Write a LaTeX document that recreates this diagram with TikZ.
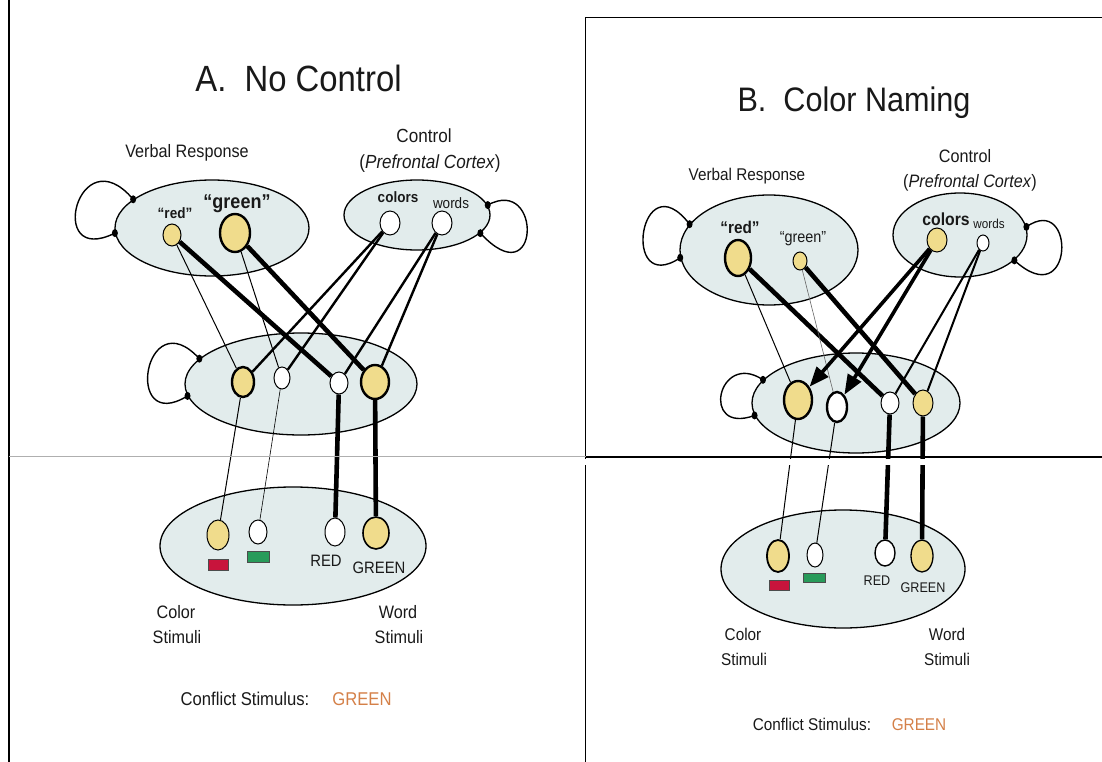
\documentclass[tikz,border=0pt]{standalone}
\usepackage{fontspec}
\setmainfont{Liberation Sans}[FakeStretch=0.9]
\usetikzlibrary{shapes.geometric,arrows.meta}
\definecolor{layerfill}{RGB}{226,236,236}
\definecolor{unityel}{RGB}{240,220,140}
\definecolor{stimred}{RGB}{200,20,60}
\definecolor{stimgreen}{RGB}{40,155,90}
\definecolor{conforange}{RGB}{212,128,72}
\definecolor{cutgray}{RGB}{175,175,175}
\definecolor{ink}{RGB}{25,25,25}
\newcommand\fsz[1]{\fontsize{#1}{#1}\selectfont}
\begin{document}
\begin{tikzpicture}[x=1pt,y=-1pt,
  layer/.style={ellipse, draw, line width=1.3, fill=layerfill, inner sep=0},
  unit/.style={ellipse, draw, line width=1, inner sep=0, fill=white},
  yel/.style={fill=unityel},
  heavyunit/.style={line width=2.4},
  tdot/.style={ellipse, fill=black, inner sep=0, minimum width=6, minimum height=8},
  loopline/.style={line width=1.4},
  hairc/.style={line width=0.6},
  thinc/.style={line width=1},
  medc/.style={line width=2.4},
  thickc/.style={line width=4.6},
  arrowc/.style={line width=3.6, -{Triangle[length=20,width=15]}},
  txt/.style={inner sep=0, anchor=base, text=ink},
  stim/.style={rectangle, draw=black!70, line width=0.8, inner sep=0, minimum width=20, minimum height=11}
]
\useasboundingbox (0,0) rectangle (1102,762);

% ================= Panel A =================
\node[txt, font=\fsz{36.5}] (titleA) at (298.5,92) {A.\ \ No Control};
\node[txt, font=\fsz{18}] (vrlabA) at (187,158) {Verbal Response};
\node[txt, font=\fsz{19}] (ctlabA) at (424,143) {Control};
\node[txt, font=\fsz{19}] (pfclabA) at (430,169) {(\textit{Prefrontal Cortex})};

\node[layer, minimum width=194, minimum height=96] (VRA) at (212,228) {};
\node[layer, minimum width=146, minimum height=70] (CtA) at (417,215) {};
\node[layer, minimum width=232, minimum height=102] (HdA) at (301,384) {};
\node[layer, minimum width=266, minimum height=118] (InA) at (293,546) {};

% self loops
\draw[loopline] (VRA.160) .. controls +(-55,-65) and +(-70,35) .. (VRA.183);
\node[tdot] (dA1) at (VRA.160) {};
\node[tdot] (dA2) at (VRA.183) {};
\draw[loopline] (CtA.8) .. controls +(55,-30) and +(60,65) .. (CtA.-16);
\node[tdot] (dA3) at (CtA.8) {};
\node[tdot] (dA4) at (CtA.-16) {};
\draw[loopline] (HdA.166) .. controls +(-55,-60) and +(-65,40) .. (HdA.186);
\node[tdot] (dA5) at (HdA.166) {};
\node[tdot] (dA6) at (HdA.186) {};

% units
\node[txt, font=\bfseries\fsz{15}] (redlabA) at (175,218) {``red''};
\node[txt, font=\bfseries\fsz{20}] (greenlabA) at (237,208) {``green''};
\node[txt, font=\bfseries\fsz{15}] (collabA) at (398,203) {colors};
\node[txt, font=\fsz{15}] (wordlabA) at (451,208) {words};

\node[unit, yel, minimum width=18, minimum height=22] (AredU) at (172,235) {};
\node[unit, yel, heavyunit, minimum width=30, minimum height=38] (AgreenU) at (235,233) {};
\node[unit, minimum width=20, minimum height=24] (AcolU) at (390,223) {};
\node[unit, minimum width=20, minimum height=24] (AwordU) at (442,223) {};

\node[unit, yel, heavyunit, minimum width=22, minimum height=30] (Ah1) at (243,382) {};
\node[unit, minimum width=16, minimum height=22] (Ah2) at (282,378) {};
\node[unit, minimum width=18, minimum height=22] (Ah3) at (339,383) {};
\node[unit, yel, heavyunit, minimum width=28, minimum height=34] (Ah4) at (375,382) {};

\node[unit, yel, minimum width=22, minimum height=30] (Ac1) at (218,535) {};
\node[unit, minimum width=18, minimum height=24] (Ac2) at (258,532) {};
\node[unit, minimum width=20, minimum height=28] (Aw1) at (335,532) {};
\node[unit, yel, line width=1.6, minimum width=26, minimum height=32] (Aw2) at (376,533) {};

\node[stim, fill=stimred] (AredStim) at (218,565) {};
\node[stim, fill=stimgreen, minimum width=22] (AgreenStim) at (258,557) {};
\node[txt, font=\fsz{16.5}] (REDA) at (326,566) {RED};
\node[txt, font=\fsz{16.5}] (GREENA) at (379,573) {GREEN};

% connections A
\draw[thinc] (AredU) -- (Ah1);
\draw[thickc] (AredU) -- (Ah3);
\draw[thinc] (AgreenU) -- (Ah2);
\draw[thickc] (AgreenU) -- (Ah4);
\draw[medc] (AcolU) -- (Ah1);
\draw[medc] (AcolU) -- (Ah2);
\draw[medc] (AwordU) -- (Ah3);
\draw[medc] (AwordU) -- (Ah4);
\draw[thinc] (Ah1) -- (Ac1);
\draw[hairc] (Ah2) -- (Ac2);
\draw[thickc] (Ah3) -- (Aw1);
\draw[thickc] (Ah4) -- (Aw2);

\node[txt, font=\fsz{18}] (colA1) at (176,618) {Color};
\node[txt, font=\fsz{18}] (colA2) at (177,643) {Stimuli};
\node[txt, font=\fsz{18}] (wrdA1) at (398,618) {Word};
\node[txt, font=\fsz{18}] (wrdA2) at (399,643) {Stimuli};
\node[txt, font=\fsz{18.5}] (confA) at (245,705) {Conflict Stimulus:};
\node[txt, font=\fsz{18.5}, text=conforange] (confGA) at (362,705) {GREEN};

% ================= Panel B =================
\node[txt, font=\fsz{34}] (titleB) at (854,112) {B.\ \ Color Naming};
\node[txt, font=\fsz{17}] (vrlabB) at (747,181) {Verbal Response};
\node[txt, font=\fsz{18}] (ctlabB) at (965,163) {Control};
\node[txt, font=\fsz{18}] (pfclabB) at (970,188) {(\textit{Prefrontal Cortex})};

\node[layer, minimum width=178, minimum height=110] (VRB) at (769,250) {};
\node[layer, minimum width=134, minimum height=84] (CtB) at (960,235) {};
\node[layer, minimum width=208, minimum height=100] (HdB) at (856,403) {};
\node[layer, minimum width=244, minimum height=118] (InB) at (843,569) {};

\draw[loopline] (VRB.162) .. controls +(-50,-65) and +(-60,40) .. (VRB.185);
\node[tdot] (dB1) at (VRB.162) {};
\node[tdot] (dB2) at (VRB.185) {};
\draw[loopline] (CtB.7) .. controls +(50,-35) and +(60,55) .. (CtB.-25);
\node[tdot] (dB3) at (CtB.7) {};
\node[tdot] (dB4) at (CtB.-25) {};
\draw[loopline] (HdB.166) .. controls +(-45,-30) and +(-55,20) .. (HdB.187);
\node[tdot] (dB5) at (HdB.166) {};
\node[tdot] (dB6) at (HdB.187) {};

\node[txt, font=\bfseries\fsz{17}] (redlabB) at (740,233) {``red''};
\node[txt, font=\fsz{16}] (greenlabB) at (803,242) {``green''};
\node[txt, font=\bfseries\fsz{17.5}] (collabB) at (946,225) {colors};
\node[txt, font=\fsz{13}] (wordlabB) at (989,228) {words};

\node[unit, yel, heavyunit, minimum width=26, minimum height=36] (BredU) at (738,258) {};
\node[unit, yel, minimum width=14, minimum height=18] (BgreenU) at (800,261) {};
\node[unit, yel, minimum width=20, minimum height=24] (BcolU) at (937,240) {};
\node[unit, minimum width=12, minimum height=16] (BwordU) at (983,243) {};

\node[unit, yel, heavyunit, minimum width=28, minimum height=38] (Bh1) at (798,400) {};
\node[unit, heavyunit, minimum width=20, minimum height=30] (Bh2) at (837,407) {};
\node[unit, minimum width=18, minimum height=22] (Bh3) at (890,403) {};
\node[unit, yel, minimum width=20, minimum height=26] (Bh4) at (923,403) {};

\node[unit, yel, line width=1.8, minimum width=22, minimum height=32] (Bc1) at (778,556) {};
\node[unit, minimum width=16, minimum height=24] (Bc2) at (815,555) {};
\node[unit, line width=1.4, minimum width=20, minimum height=26] (Bw1) at (885,553) {};
\node[unit, yel, line width=1.3, minimum width=22, minimum height=32] (Bw2) at (922,556) {};

\node[stim, fill=stimred, minimum height=10] (BredStim) at (779,585) {};
\node[stim, fill=stimgreen, minimum width=22, minimum height=9] (BgreenStim) at (814,578) {};
\node[txt, font=\fsz{14}] (REDB) at (877,585) {RED};
\node[txt, font=\fsz{14}] (GREENB) at (923,592) {GREEN};

% connections B
\draw[thinc] (BredU) -- (Bh1);
\draw[thickc] (BredU) -- (Bh3);
\draw[hairc, black!60] (BgreenU) -- (Bh2);
\draw[thickc] (BgreenU) -- (Bh4);
\draw[arrowc] (BcolU) -- (Bh1);
\draw[arrowc] (BcolU) -- (Bh2);
\draw[medc, line width=2] (BwordU) -- (Bh3);
\draw[medc, line width=2] (BwordU) -- (Bh4);
\draw[thinc] (Bh1) -- (Bc1);
\draw[thinc] (Bh2) -- (Bc2);
\draw[thickc] (Bh3) -- (Bw1);
\draw[thickc] (Bh4) -- (Bw2);

\node[txt, font=\fsz{17}] (colB1) at (743,640) {Color};
\node[txt, font=\fsz{17}] (colB2) at (744,665) {Stimuli};
\node[txt, font=\fsz{17}] (wrdB1) at (947,640) {Word};
\node[txt, font=\fsz{17}] (wrdB2) at (947,665) {Stimuli};
\node[txt, font=\fsz{17}] (confB) at (812,730) {Conflict Stimulus:};
\node[txt, font=\fsz{17}, text=conforange] (confGB) at (919,730) {GREEN};

% ================= frame / cut lines =================
\draw[line width=1.5] (9,0) -- (9,762);
\draw[line width=1.8] (585.5,762) -- (585.5,17.5) -- (1102,17.5);
\fill[white] (583,458.5) rectangle (1102,464.5);
\draw[cutgray, line width=1.2] (9,456.3) -- (585.5,456.3);
\draw[line width=1.5] (585.5,457) -- (1102,457);
\end{tikzpicture}
\end{document}
